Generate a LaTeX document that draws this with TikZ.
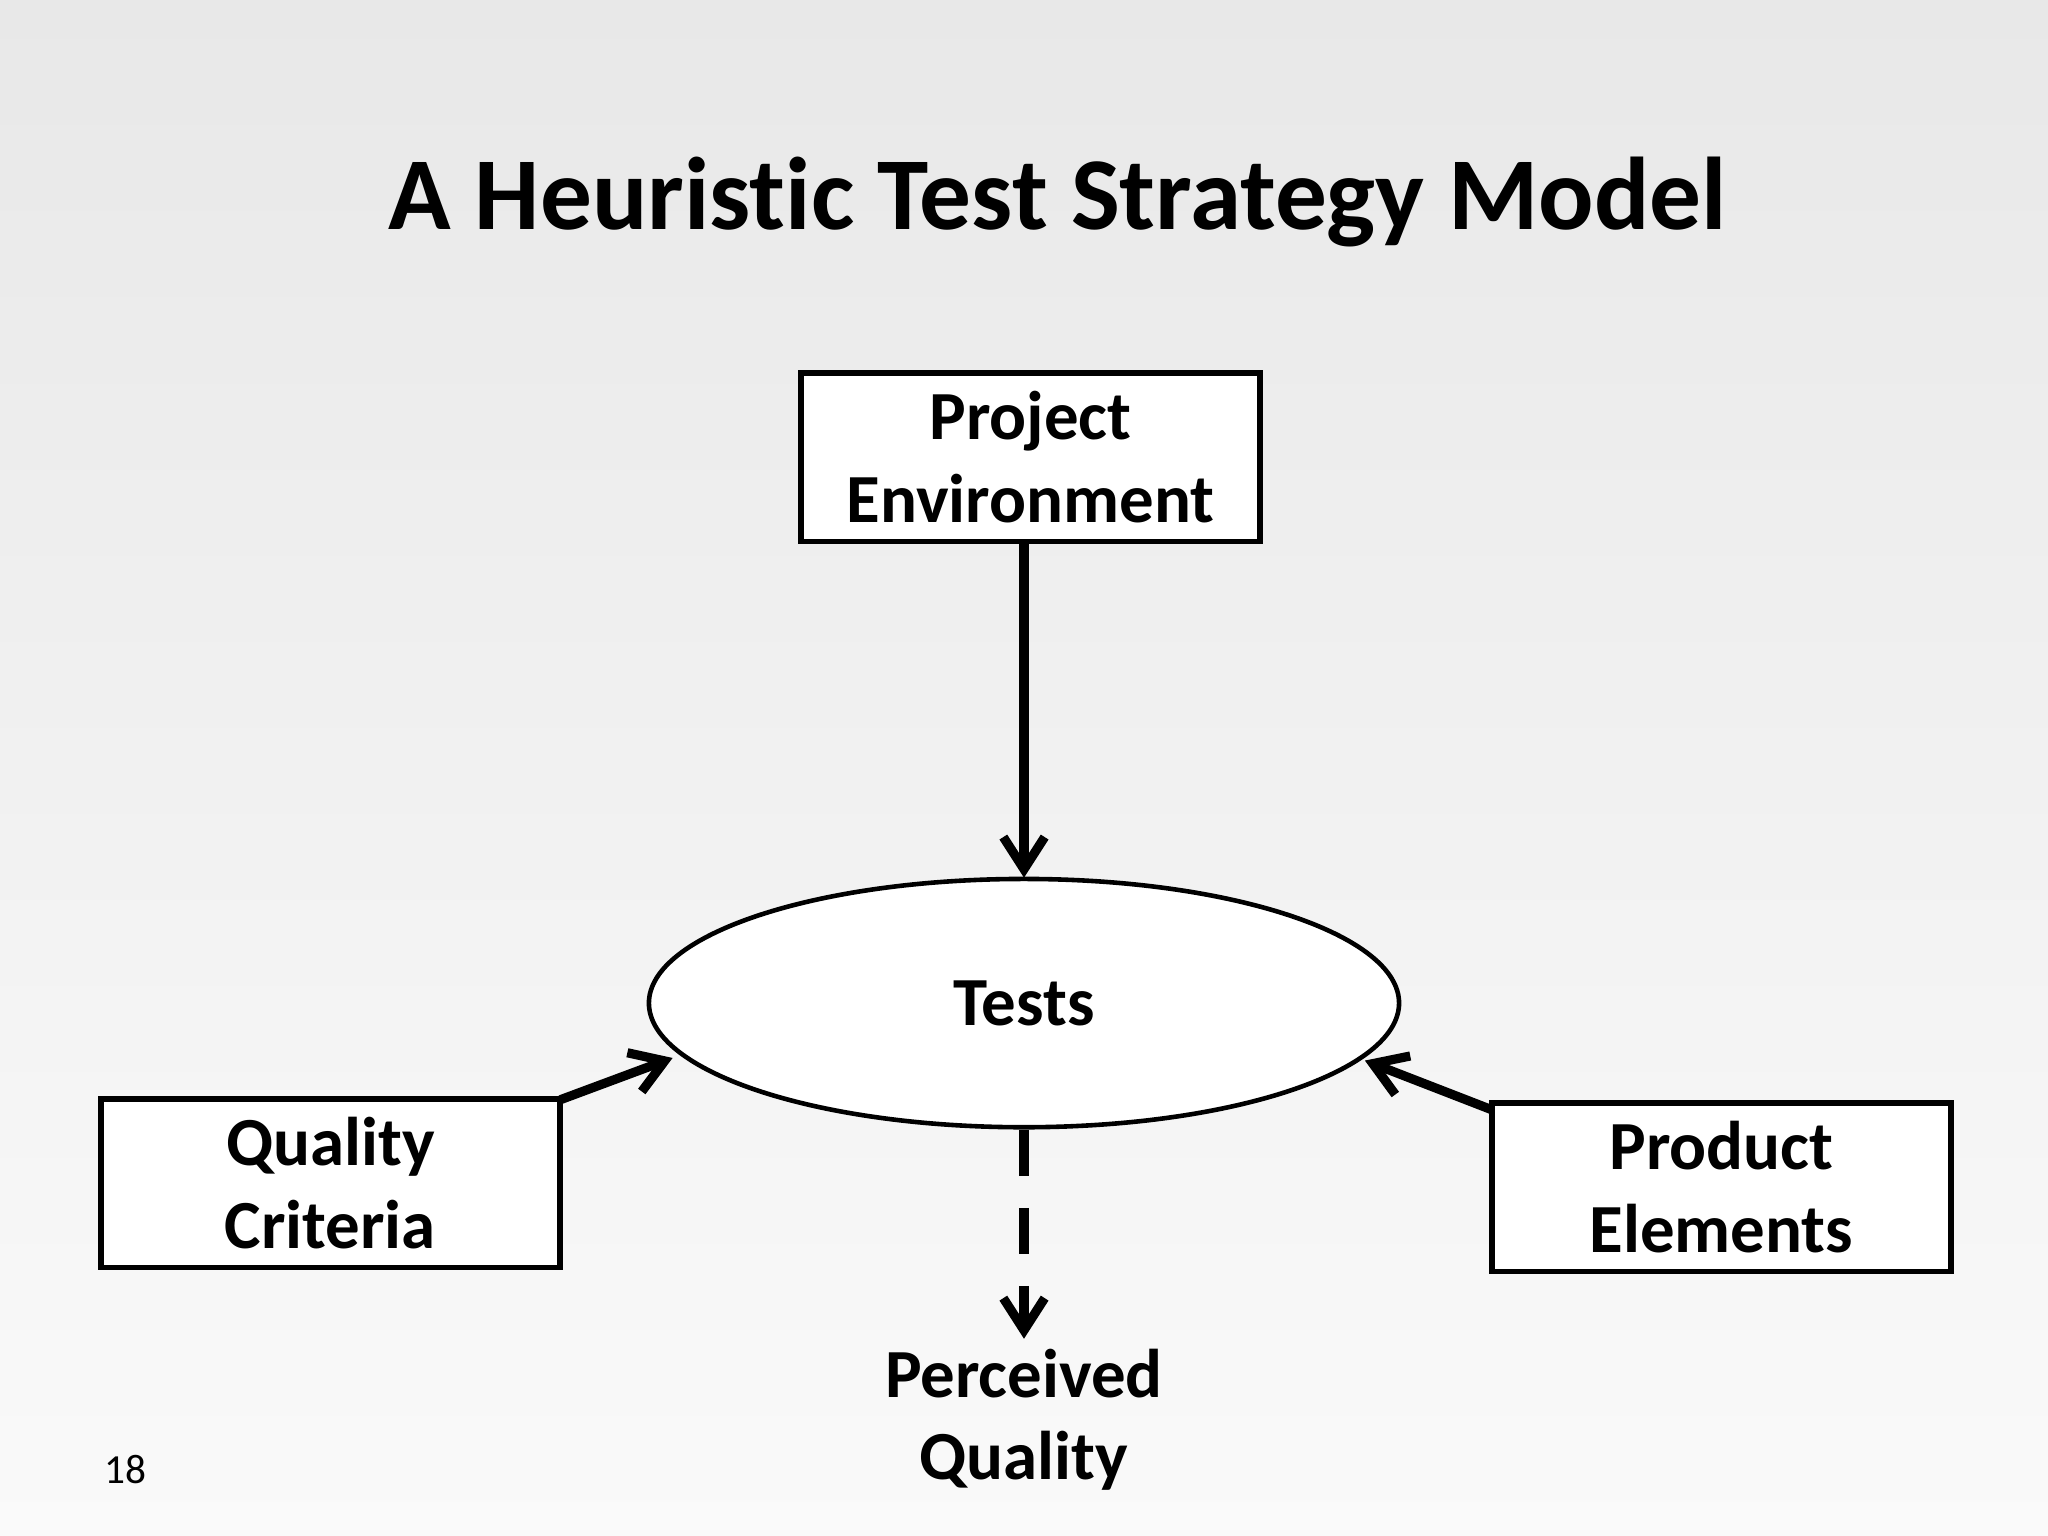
\documentclass[tikz,border=0pt]{standalone}
\usepackage{fontspec}
\setmainfont{Carlito}[Ligatures={NoCommon,NoRare}]
\usetikzlibrary{arrows.meta,shapes.geometric}
\begin{document}
\begin{tikzpicture}[x=0.01cm,y=-0.01cm,
  box/.style={draw,line width=1.2pt,fill=white,minimum width=3.51cm,minimum height=1.29cm,align=center,font=\fontsize{15}{18}\selectfont\bfseries},
  arr/.style={line width=2pt,-{Straight Barb[length=7pt,width=9pt]}}]
\shade[top color=black!9,bottom color=black!2] (0,0) rectangle (1568,1176);
\useasboundingbox (0,0) rectangle (1568,1176);
\node[font=\fontsize{22.5}{27}\selectfont\bfseries] (title) at (810,155) {A Heuristic Test Strategy Model};
\node[box] (pe) at (789,350) {Project\\Environment};
\node[box] (qc) at (253,906) {Quality\\Criteria};
\node[box] (pr) at (1318,909) {Product\\Elements};
\node[draw,line width=1pt,ellipse,fill=white,minimum width=5.74cm,minimum height=1.9cm,font=\fontsize{15}{18}\selectfont\bfseries] (t) at (784,768) {Tests};
\node[align=center,font=\fontsize{15}{18}\selectfont\bfseries] (pq) at (784,1087) {Perceived\\Quality};
\node[font=\fontsize{9}{11}\selectfont] (n) at (96,1125) {18};
\coordinate (a1) at (784,672);
\coordinate (q0) at (429,842);
\coordinate (q1) at (515,810);
\coordinate (p0) at (1143,850);
\coordinate (p1) at (1045,812);
\coordinate (d0) at (784,865);
\coordinate (d1) at (784,1025);
\draw[arr] (pe.south -| a1) -- (a1);
\draw[arr] (q0) -- (q1);
\draw[arr] (p0) -- (p1);
\draw[arr,dash pattern=on 10pt off 7pt] (d0) -- (d1);
\end{tikzpicture}
\end{document}
